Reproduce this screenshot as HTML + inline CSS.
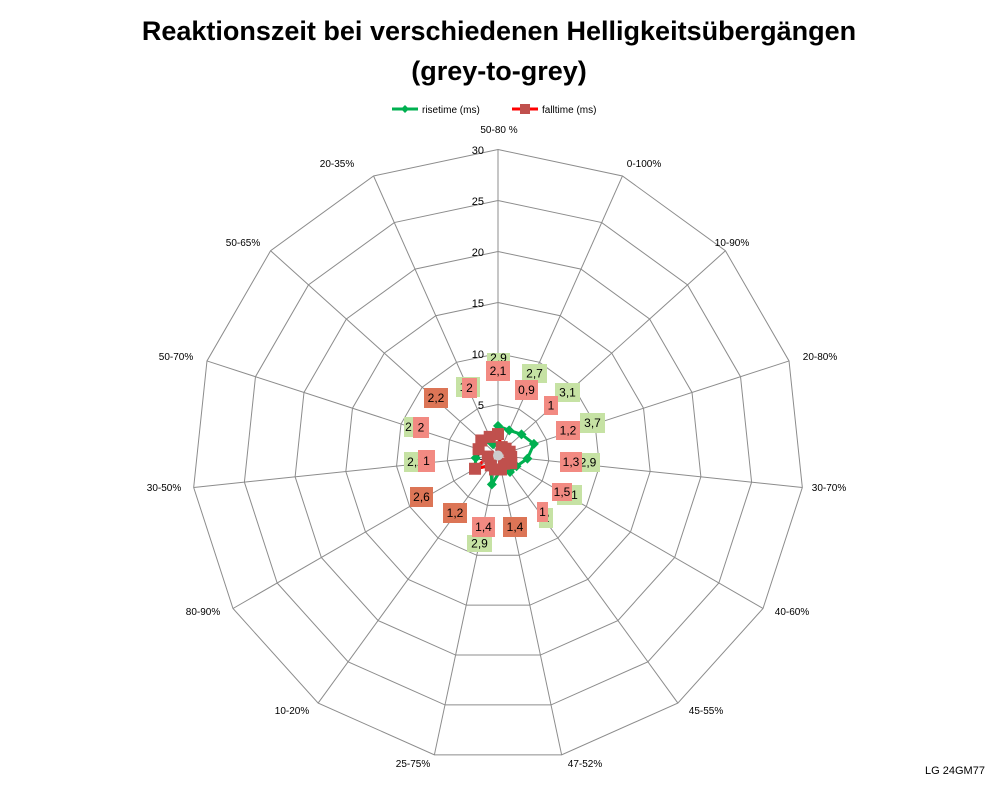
<!DOCTYPE html><html><head><style>body{margin:0;background:#fff}svg text{font-family:"Liberation Sans",Arial,sans-serif}</style></head><body>
<svg id="s" width="998" height="786" xmlns="http://www.w3.org/2000/svg">
<rect width="998" height="786" fill="#fff"/>
<text x="499" y="40" text-anchor="middle" font-size="27" font-weight="bold">Reaktionszeit bei verschiedenen Helligkeitsübergängen</text>
<text x="499" y="80" text-anchor="middle" font-size="27" font-weight="bold">(grey-to-grey)</text>
<line x1="392" y1="109" x2="418" y2="109" stroke="#00b050" stroke-width="3"/><path d="M405 105l4 4-4 4-4-4z" fill="#00b050"/>
<text x="422" y="113" font-size="10">risetime (ms)</text>
<line x1="512" y1="109" x2="538" y2="109" stroke="#f00" stroke-width="3"/><rect x="520" y="104" width="10" height="10" fill="#c0504d"/>
<text x="542" y="113" font-size="10">falltime (ms)</text>
<g id="grid" stroke="#8c8c8c" fill="none" stroke-width="1"></g>
<g font-size="11" text-anchor="end">
<text x="484" y="154">30</text><text x="484" y="205">25</text><text x="484" y="256">20</text><text x="484" y="307">15</text><text x="484" y="358">10</text><text x="484" y="409">5</text><text x="484" y="460">0</text></g>
<g font-size="10" text-anchor="middle">
<text x="499" y="133">50-80 %</text><text x="644" y="167">0-100%</text><text x="732" y="246">10-90%</text><text x="820" y="360">20-80%</text><text x="829" y="491">30-70%</text><text x="792" y="615">40-60%</text><text x="706" y="714">45-55%</text><text x="585" y="767">47-52%</text><text x="413" y="767">25-75%</text><text x="292" y="714">10-20%</text><text x="203" y="615">80-90%</text><text x="164" y="491">30-50%</text><text x="176" y="360">50-70%</text><text x="243" y="246">50-65%</text><text x="337" y="167">20-35%</text></g>
<g id="data"></g>
<g id="lab" font-size="12" text-anchor="middle"></g>
<text x="955" y="774" font-size="11" text-anchor="middle">LG 24GM77</text>
</svg>
<script>
const cx=498,cy=455.5,k=10.2,N=15,ns="http://www.w3.org/2000/svg";
function pt(i,v){const a=i*2*Math.PI/N;return [cx+v*k*Math.sin(a),cy-v*k*Math.cos(a)];}
let g=document.getElementById('grid'),h='';
for(let r=5;r<=30;r+=5){let p=[];for(let i=0;i<N;i++)p.push(pt(i,r).join(','));h+=`<polygon points="${p.join(' ')}"/>`;}
for(let i=0;i<N;i++){const q=pt(i,30);h+=`<line x1="${cx}" y1="${cy}" x2="${q[0]}" y2="${q[1]}"/>`;}
g.innerHTML=h;
const rise=[2.9,2.7,3.1,3.7,2.9,2.1,2,1.4,2.9,1.2,2.6,2.2,2.0,2.2,1.2];
const fall=[2.1,0.9,1,1.2,1.3,1.5,1,1.4,1.4,1.2,2.6,1,2,2.2,2];
let d='';
let pr=rise.map((v,i)=>pt(i,v).join(',')).join(' ');
d+=`<polygon points="${pr}" fill="none" stroke="#00b050" stroke-width="3"/>`;
rise.forEach((v,i)=>{const[x,y]=pt(i,v);d+=`<path d="M${x} ${y-5}l5 5-5 5-5-5z" fill="#00b050"/>`});
let pf=fall.map((v,i)=>pt(i,v).join(',')).join(' ');
d+=`<polygon points="${pf}" fill="none" stroke="#f00" stroke-width="3"/>`;
fall.forEach((v,i)=>{const[x,y]=pt(i,v);d+=`<rect x="${x-6}" y="${y-6}" width="12" height="12" fill="#c0504d"/>`});
d+=`<circle cx="${cx}" cy="${cy}" r="5" fill="#ccc"/>`;
document.getElementById('data').innerHTML=d;
const G='#c6e2a4',R='#f28a82',O='#dc7556';
const L=[[487,353,23,10,G,'2,9'],[486,361,24,20,R,'2,1'],[522,364,25,19,G,'2,7'],[515,380,23,20,R,'0,9'],[555,383,25,19,G,'3,1'],[544,396,14,19,R,'1'],[580,413,25,20,G,'3,7'],[556,421,24,19,R,'1,2'],[576,453,24,19,G,'2,9'],[560,452,22,20,R,'1,3'],[557,485,25,20,G,'2,1'],[552,483,20,18,R,'1,5'],[539,508,14,20,G,'2'],[537,502,11,20,R,'1'],[503,517,24,20,O,'1,4'],[467,535,25,17,G,'2,9'],[472,517,23,20,R,'1,4'],[443,503,24,20,O,'1,2'],[410,487,23,20,O,'2,6'],[404,452,23,20,G,'2,2'],[418,450,17,22,R,'1'],[404,417,19,20,G,'2,0'],[413,417,16,21,R,'2'],[424,388,24,20,O,'2,2'],[456,377,24,20,G,'1,2'],[462,378,15,20,R,'2']];
let lh='';L.forEach(([x,y,w,hh,c,t])=>{lh+=`<rect x="${x}" y="${y}" width="${w}" height="${hh}" fill="${c}"/><text x="${x+w/2}" y="${y+hh/2+4}">${t}</text>`});
document.getElementById('lab').innerHTML=lh;
</script>
</body></html>
